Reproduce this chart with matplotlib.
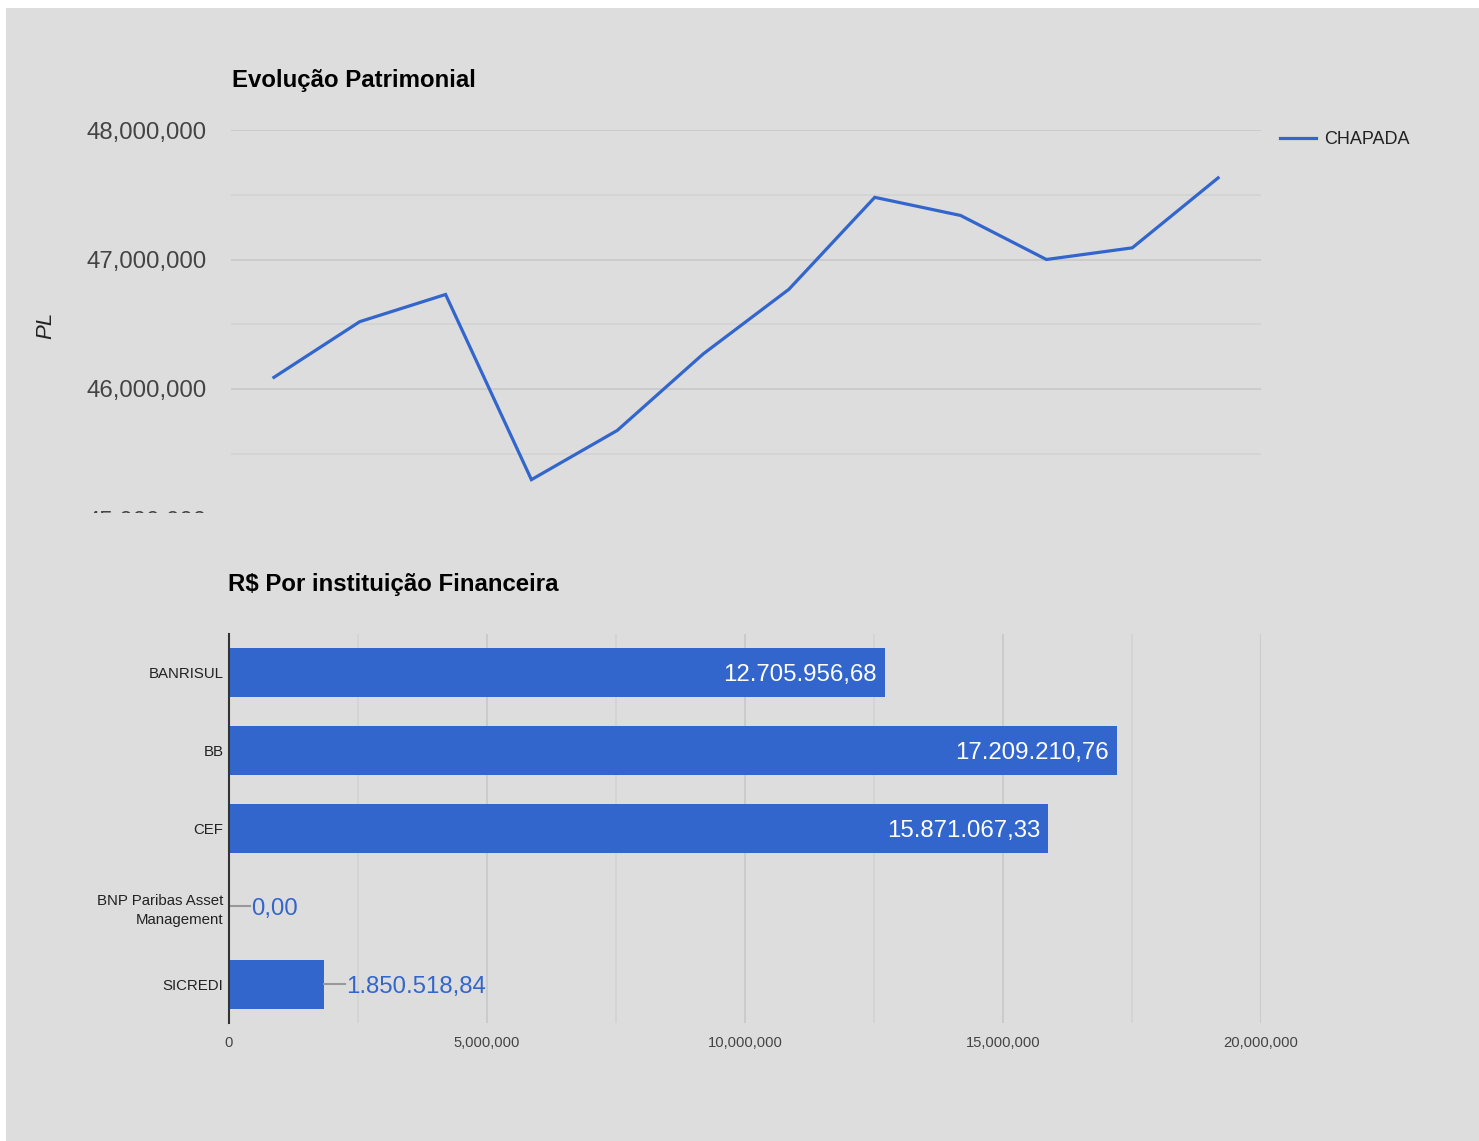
import matplotlib
matplotlib.use("Agg")
import matplotlib.pyplot as plt
from matplotlib.patches import Rectangle
from matplotlib.lines import Line2D
from matplotlib.transforms import Bbox, TransformedBbox, offset_copy, blended_transform_factory
from matplotlib.ticker import FixedLocator, FuncFormatter

plt.rcParams['font.family'] = ['Liberation Sans', 'DejaVu Sans']

# ---------------- data ----------------
line_title = "Evolução Patrimonial"
line_series = "CHAPADA"
line_ylabel = "PL"
pl_values = [46.09e6, 46.52e6, 46.73e6, 45.30e6, 45.68e6, 46.27e6,
             46.77e6, 47.48e6, 47.34e6, 47.00e6, 47.09e6, 47.63e6]
line_major_ticks = [46e6, 47e6, 48e6]
line_minor_ticks = [45.5e6, 46.5e6, 47.5e6]
line_clipped_tick = 45e6

bar_title = "R$ Por instituição Financeira"
institutions = ["BANRISUL", "BB", "CEF", "BNP Paribas Asset\nManagement", "SICREDI"]
amounts = [12705956.68, 17209210.76, 15871067.33, 0.00, 1850518.84]
bar_major_ticks = [0, 5e6, 10e6, 15e6, 20e6]
bar_minor_ticks = [2.5e6, 7.5e6, 12.5e6, 17.5e6]

# ---------------- style ----------------
W, H = 1479, 1141
BG = '#dddddd'
BLUE = '#3366cc'
GRID = '#cacaca'
GRID_MINOR = '#d4d4d4'

def fx(x):
    return x / W

def fy(y):
    return 1 - y / H

fig = plt.figure(figsize=(W / 100, H / 100), dpi=100)
fig.patch.set_facecolor('white')
fig.add_artist(Rectangle((fx(6), 0), 1 - fx(6), fy(8), transform=fig.transFigure,
                         facecolor=BG, edgecolor='none', zorder=-10))

def fmt_us(v, _pos=None):
    return f"{v:,.0f}"

def fmt_br(v):
    s = f"{v:,.2f}"
    return s.replace(',', 'X').replace('.', ',').replace('X', '.')

# ---------------- top line chart ----------------
ax1 = fig.add_axes([fx(231), fy(512), fx(1261) - fx(231), fy(130) - fy(512)])
ax1.set_facecolor('none')
xs = list(range(len(pl_values)))
ax1.plot(xs, pl_values, color=BLUE, lw=2.3, solid_joinstyle='miter', zorder=3, clip_on=False)
ax1.set_xlim(-0.5, len(pl_values) - 0.5)
top = 48e6
ax1.set_ylim(top - (512 - 130) / 129.5 * 1e6, top)
ax1.yaxis.set_major_locator(FixedLocator(line_major_ticks))
ax1.yaxis.set_minor_locator(FixedLocator(line_minor_ticks))
ax1.yaxis.set_major_formatter(FuncFormatter(fmt_us))
ax1.grid(True, which='major', axis='y', color=GRID, lw=1.3)
ax1.grid(True, which='minor', axis='y', color=GRID_MINOR, lw=1.3)
ax1.set_axisbelow(True)
ax1.tick_params(axis='y', which='both', length=0, pad=17.3, labelsize=17.3, labelcolor='#444444')
ax1.tick_params(axis='x', which='both', length=0, labelbottom=False)
for s in ax1.spines.values():
    s.set_visible(False)

# clipped 45,000,000 label (chart container cut off)
clip = TransformedBbox(Bbox([[0, fy(513)], [1, 1]]), fig.transFigure)
lbl_tr = offset_copy(blended_transform_factory(fig.transFigure, ax1.transData),
                     fig=fig, x=0, y=-1, units='dots')
t = ax1.text(fx(207), line_clipped_tick, fmt_us(line_clipped_tick), transform=lbl_tr,
             ha='right', va='center_baseline', fontsize=17.3, color='#444444', clip_on=True)
t.set_clip_box(clip)

fig.text(fx(232), fy(81), line_title, fontsize=17.3, fontweight='bold', color='black',
         ha='left', va='center')
fig.text(fx(46), fy(325), line_ylabel, fontsize=16, style='italic', color='#222222',
         rotation=90, ha='center', va='center')
fig.add_artist(Line2D([fx(1280), fx(1316)], [fy(138), fy(138)], transform=fig.transFigure,
                      color=BLUE, lw=2.3))
fig.text(fx(1324), fy(140), line_series, fontsize=13, color='#222222', ha='left', va='center')

# ---------------- bottom bar chart ----------------
ax2 = fig.add_axes([fx(229), fy(1023), fx(1261) - fx(229), fy(634) - fy(1023)])
ax2.set_facecolor('none')
ys = list(range(len(institutions)))
ax2.barh(ys, amounts, height=0.63, color=BLUE, zorder=3)
ax2.set_xlim(0, 20e6)
ax2.set_ylim(len(institutions) - 0.5, -0.5)
ax2.set_yticks(ys)
ax2.set_yticklabels(institutions)
ax2.xaxis.set_major_locator(FixedLocator(bar_major_ticks))
ax2.xaxis.set_minor_locator(FixedLocator(bar_minor_ticks))
ax2.xaxis.set_major_formatter(FuncFormatter(fmt_us))
ax2.grid(True, which='major', axis='x', color=GRID, lw=1.3)
ax2.grid(True, which='minor', axis='x', color=GRID_MINOR, lw=1.3)
ax2.set_axisbelow(True)
ax2.tick_params(axis='x', which='both', length=0, pad=9.5, labelsize=10.6, labelcolor='#444444')
ax2.tick_params(axis='y', which='both', length=0, pad=4, labelsize=10.8, labelcolor='#222222')
for lbl in ax2.get_yticklabels():
    lbl.set_linespacing(1.45)
for name, s in ax2.spines.items():
    s.set_visible(name == 'left')
ax2.spines['left'].set_color('#333333')
ax2.spines['left'].set_linewidth(1.5)
ax2.spines['left'].set_zorder(5)

px_per_unit = (ax2.get_position().width * W) / 20e6
for i, v in enumerate(amounts):
    label = fmt_br(v)
    if v > 5e6:
        tr = offset_copy(ax2.transData, fig=fig, x=-8, y=0, units='dots')
        ax2.text(v, i, label, transform=tr, ha='right', va='center_baseline',
                 fontsize=17.3, color='white', zorder=4)
    else:
        lead = 21 / px_per_unit
        ax2.plot([v, v + lead], [i, i], color='#999999', lw=1.5, zorder=4, clip_on=False)
        tr = offset_copy(ax2.transData, fig=fig, x=22, y=0, units='dots')
        ax2.text(v, i, label, transform=tr, ha='left', va='center_baseline',
                 fontsize=17.3, color=BLUE, zorder=4)

fig.text(fx(228), fy(585), bar_title, fontsize=17.3, fontweight='bold', color='black',
         ha='left', va='center')

fig.savefig('out.png', dpi=100, facecolor=fig.get_facecolor())
